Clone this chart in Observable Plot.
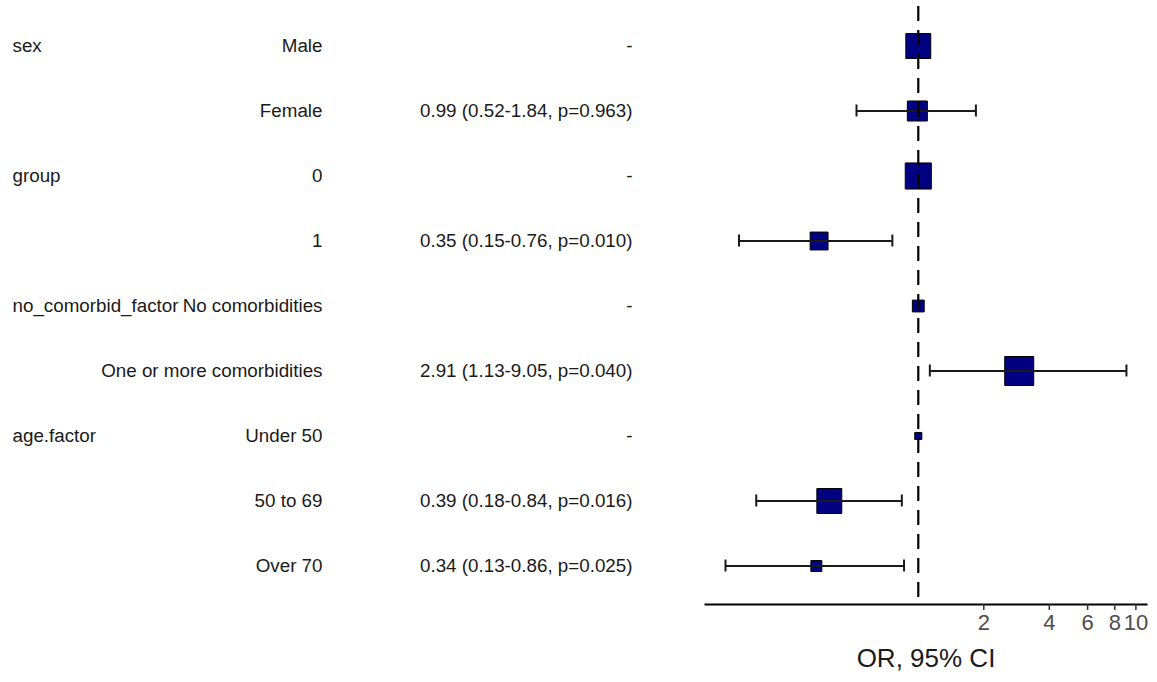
<!DOCTYPE html>
<html>
<head>
<meta charset="utf-8">
<script src="https://cdn.jsdelivr.net/npm/d3@7"></script>
<script src="https://cdn.jsdelivr.net/npm/@observablehq/plot@0.6"></script>
<style>
  html, body { margin: 0; padding: 0; background: #ffffff; }
  #chart { width: 1157px; height: 682px; }
</style>
</head>
<body>
<div id="chart"></div>
<script>
// ---- Data ----
const variables = ["sex", "", "group", "", "no_comorbid_factor", "", "age.factor", "", ""];
const levels = ["Male", "Female", "0", "1", "No comorbidities", "One or more comorbidities", "Under 50", "50 to 69", "Over 70"];
const results = ["-", "0.99 (0.52-1.84, p=0.963)", "-", "0.35 (0.15-0.76, p=0.010)", "-", "2.91 (1.13-9.05, p=0.040)", "-", "0.39 (0.18-0.84, p=0.016)", "0.34 (0.13-0.86, p=0.025)"];
const oddsRatios = [1, 0.99, 1, 0.35, 1, 2.91, 1, 0.39, 0.34];
const lowerCI = [null, 0.52, null, 0.15, null, 1.13, null, 0.18, 0.13];
const upperCI = [null, 1.84, null, 0.76, null, 9.05, null, 0.84, 0.86];
const counts = [62, 40, 68, 32, 14, 84, 5, 62, 12];
const tickValues = [2, 4, 6, 8, 10];
const axisTitle = "OR, 95% CI";

const rows = levels.map((lv, i) => ({
  row: i,
  variable: variables[i],
  level: lv,
  result: results[i],
  or: oddsRatios[i],
  lower: lowerCI[i],
  upper: upperCI[i],
  n: counts[i]
}));
const withCI = rows.filter(d => d.lower != null);

const textColor = "#1a1a1a";
const tableFont = 18.8;

const plot = Plot.plot({
  width: 1157,
  height: 682,
  marginLeft: 705,
  marginRight: 11,
  marginTop: 6,
  marginBottom: 78,
  style: { fontFamily: "'Liberation Sans', Arial, Helvetica, sans-serif", background: "#ffffff", overflow: "visible" },
  x: { type: "log", domain: [0.1052, 11.19] },
  y: { type: "band", domain: rows.map(d => d.row), range: [12.5, 597.5], padding: 0, axis: null },
  r: { type: "sqrt", domain: [0, 84], range: [0, 16.36] },
  marks: [
    // table columns
    Plot.text(rows, { y: "row", text: "variable", frameAnchor: "left", dx: -693, textAnchor: "start", fontSize: tableFont, fill: textColor }),
    Plot.text(rows, { y: "row", text: "level", frameAnchor: "left", dx: -383, textAnchor: "end", fontSize: tableFont, fill: textColor }),
    Plot.text(rows, { y: "row", text: "result", frameAnchor: "left", dx: -73, textAnchor: "end", fontSize: tableFont, fill: textColor }),
    // forest plot
    Plot.dot(rows, { x: "or", y: "row", r: "n", symbol: "square", fill: "#000080", stroke: "#000000", strokeWidth: 1 }),
    Plot.ruleY(withCI, { y: "row", x1: "lower", x2: "upper", stroke: textColor, strokeWidth: 2 }),
    Plot.tickX(withCI, { x: "lower", y: "row", insetTop: 26.5, insetBottom: 26.5, stroke: textColor, strokeWidth: 2 }),
    Plot.tickX(withCI, { x: "upper", y: "row", insetTop: 26.5, insetBottom: 26.5, stroke: textColor, strokeWidth: 2 }),
    Plot.ruleX([1], { stroke: "#000000", strokeWidth: 2.2, strokeDasharray: "15,9" }),
    // axis
    Plot.frame({ anchor: "bottom", stroke: "#000000", strokeWidth: 2 }),
    Plot.axisX({ ticks: tickValues, tickFormat: () => "", tickSize: 6, stroke: "#333333", strokeWidth: 1.5, label: null }),
    Plot.text(tickValues, { x: d => d, text: d => String(d), frameAnchor: "bottom", dy: 25, fontSize: 22, fill: "#4d4d4d" }),
    Plot.text([axisTitle], { text: d => d, frameAnchor: "bottom", dy: 62, fontSize: 26, fill: textColor })
  ]
});

document.getElementById("chart").appendChild(plot);
</script>
</body>
</html>
